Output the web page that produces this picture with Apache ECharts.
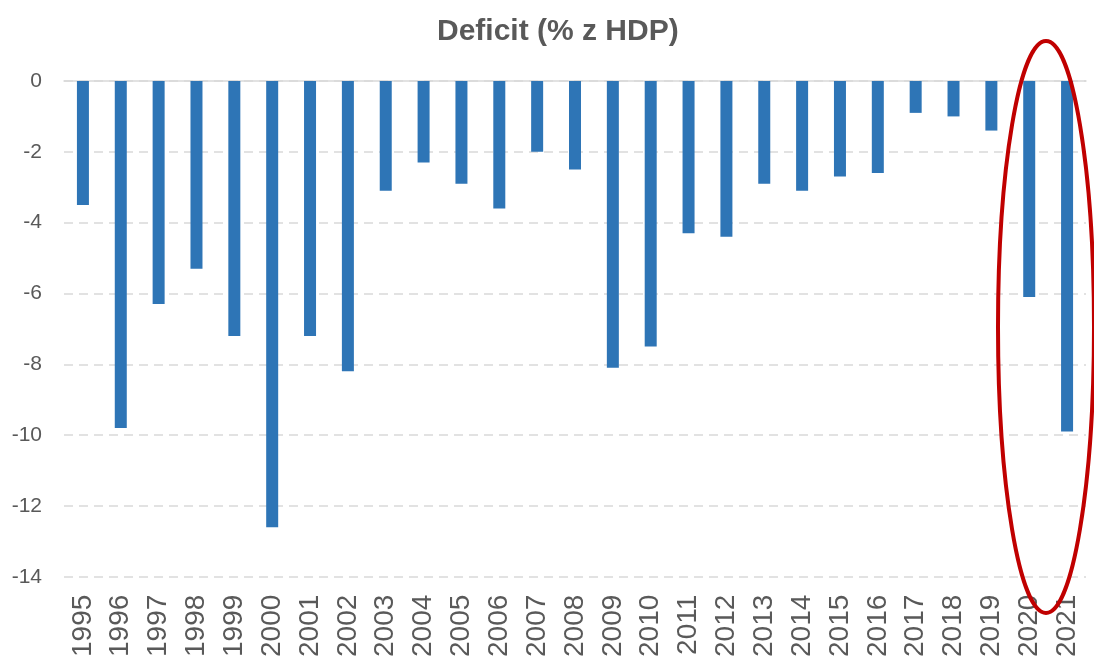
<!DOCTYPE html>
<html>
<head>
<meta charset="utf-8">
<script src="https://cdn.jsdelivr.net/npm/echarts@6/dist/echarts.min.js"></script>
<style>
  html, body { margin: 0; padding: 0; background: #fff; }
  #main { width: 1094px; height: 660px; }
</style>
</head>
<body>
<div id="main"></div>
<script>
var years = ['1995', '1996', '1997', '1998', '1999', '2000', '2001', '2002', '2003',
  '2004', '2005', '2006', '2007', '2008', '2009', '2010', '2011', '2012', '2013',
  '2014', '2015', '2016', '2017', '2018', '2019', '2020', '2021'];
var deficit = [-3.5, -9.8, -6.3, -5.3, -7.2, -12.6, -7.2, -8.2, -3.1,
  -2.3, -2.9, -3.6, -2.0, -2.5, -8.1, -7.5, -4.3, -4.4, -2.9,
  -3.1, -2.7, -2.6, -0.9, -1.0, -1.4, -6.1, -9.9];
var yTicks = { min: -14, max: 0, step: 2 };

var chart = echarts.init(document.getElementById('main'));

var option = {
  backgroundColor: '#ffffff',
  animation: false,
  title: {
    text: 'Deficit (% z HDP)',
    left: 432,
    top: 12,
    textStyle: {
      fontFamily: 'Liberation Sans, Arial, sans-serif',
      fontSize: 30,
      fontWeight: 'bold',
      color: '#595959'
    }
  },
  grid: { left: 64, right: 8, top: 81, bottom: 80 },
  xAxis: [
    {
      type: 'category',
      data: years,
      position: 'bottom',
      axisLine: { show: false, onZero: false },
      axisTick: { show: false },
      axisLabel: {
        rotate: 90,
        margin: 18,
        fontFamily: 'Liberation Sans, Arial, sans-serif',
        fontSize: 28,
        color: '#595959'
      }
    },
    {
      // solid zero line
      type: 'category',
      data: years,
      axisLine: { show: true, onZero: true, lineStyle: { color: '#D9D9D9', width: 1.5 } },
      axisTick: { show: false },
      axisLabel: { show: false }
    }
  ],
  yAxis: {
    type: 'value',
    min: yTicks.min,
    max: yTicks.max,
    interval: yTicks.step,
    axisLine: { show: false },
    axisTick: { show: false },
    axisLabel: {
      margin: 22,
      fontFamily: 'Liberation Sans, Arial, sans-serif',
      fontSize: 21,
      color: '#595959'
    },
    splitLine: { lineStyle: { color: '#D9D9D9', type: [9, 6], width: 1.5 } }
  },
  series: [
    {
      name: 'Deficit',
      type: 'bar',
      data: deficit,
      barWidth: 12,
      itemStyle: { color: '#2E75B6' }
    }
  ],
  graphic: [
    {
      type: 'ellipse',
      shape: { cx: 1046, cy: 327, rx: 48, ry: 286 },
      style: { fill: null, stroke: '#C00000', lineWidth: 4 },
      z: 100
    }
  ]
};

chart.setOption(option);
</script>
</body>
</html>
